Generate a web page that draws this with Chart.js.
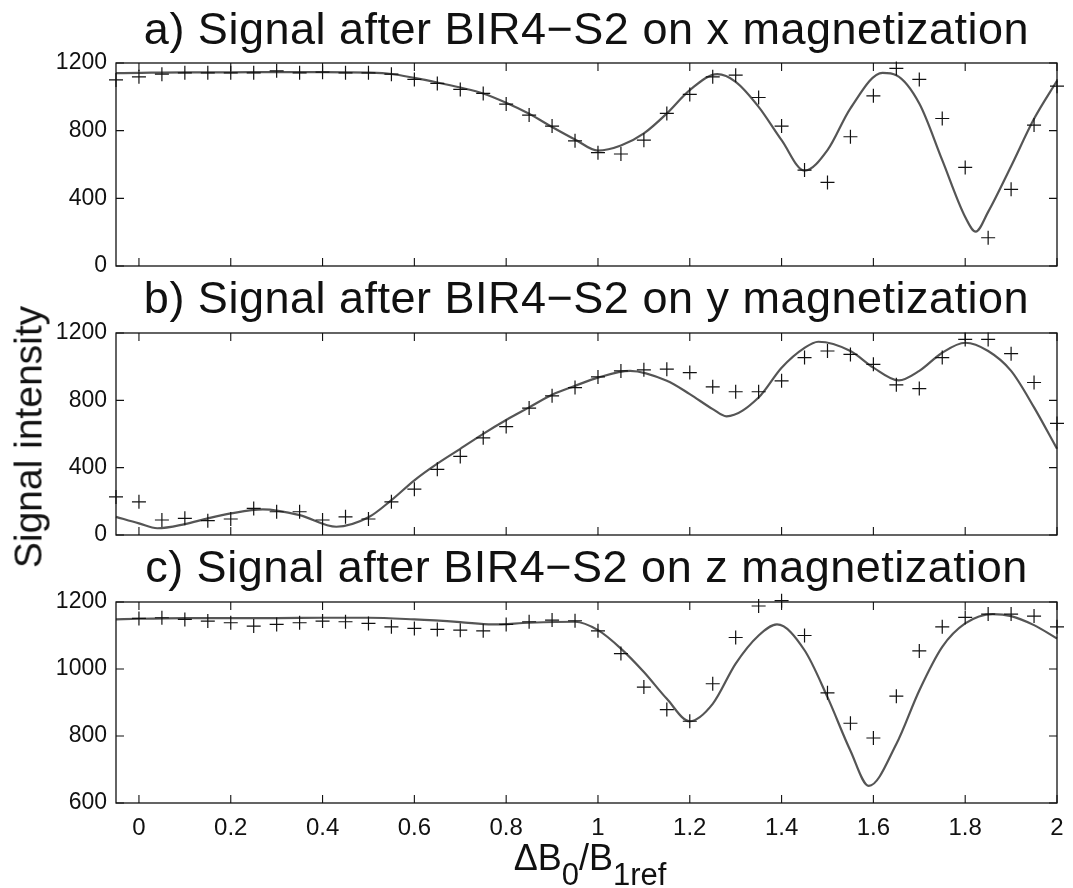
<!DOCTYPE html>
<html>
<head>
<meta charset="utf-8">
<script src="https://cdn.jsdelivr.net/npm/chart.js@4.4.1/dist/chart.umd.min.js"></script>
<style>
  html, body { margin: 0; padding: 0; background: #fff; }
  body { width: 1073px; height: 888px; position: relative; overflow: hidden; font-family: 'Liberation Sans', Arial, Helvetica, sans-serif; color: #111; }
  canvas { position: absolute; left: 0; }
  .title { position: absolute; left: 116px; width: 941px; text-align: center; font-size: 45px; line-height: 45px; white-space: nowrap; letter-spacing: 0.5px; z-index: 2; }
  .ylab { position: absolute; left: 28px; top: 437px; transform: translate(-50%, -50%) rotate(-90deg); font-size: 39px; line-height: 39px; white-space: nowrap; z-index: 2; }
  .xlab { position: absolute; left: 590px; top: 840px; transform: translateX(-50%); font-size: 36px; line-height: 36px; white-space: nowrap; z-index: 2; }
  .xlab .sb { font-size: 31px; position: relative; top: 15px; }
</style>
</head>
<body>
<div class="title" style="top:6px">a) Signal after BIR4−S2 on x magnetization</div>
<div class="title" style="top:275px">b) Signal after BIR4−S2 on y magnetization</div>
<div class="title" style="top:544px">c) Signal after BIR4−S2 on z magnetization</div>
<div class="ylab">Signal intensity</div>
<div class="xlab">ΔB<span class="sb">0</span>/B<span class="sb">1ref</span></div>

<canvas id="ca" width="1073" height="230" style="top:50px"></canvas>
<canvas id="cb" width="1073" height="230" style="top:320px"></canvas>
<canvas id="cc" width="1073" height="260" style="top:590px"></canvas>

<script>
// ---- tick values / labels ----
const xTicks = [0, 0.2, 0.4, 0.6, 0.8, 1, 1.2, 1.4, 1.6, 1.8, 2];
const xTickLabels = ['0', '0.2', '0.4', '0.6', '0.8', '1', '1.2', '1.4', '1.6', '1.8', '2'];
const yTicksAB = [0, 400, 800, 1200];
const yTicksC = [600, 800, 1000, 1200];

// ---- measured points (crosses) ----
const measX = [-0.05, 0, 0.05, 0.1, 0.15, 0.2, 0.25, 0.3, 0.35, 0.4, 0.45, 0.5, 0.55, 0.6, 0.65, 0.7, 0.75, 0.8, 0.85, 0.9, 0.95,
               1, 1.05, 1.1, 1.15, 1.2, 1.25, 1.3, 1.35, 1.4, 1.45, 1.5, 1.55, 1.6, 1.65, 1.7, 1.75, 1.8, 1.85, 1.9, 1.95, 2];
const aMeas = [1100, 1118, 1134, 1142, 1142, 1142, 1142, 1154, 1142, 1146, 1142, 1142, 1134, 1103, 1079, 1044, 1020, 957, 892, 827, 740,
               670, 662, 744, 902, 1014, 1118, 1128, 996, 827, 567, 494, 764, 1006, 1168, 1103, 872, 583, 167, 453, 833, 1063];
const bMeas = [226, 197, 89, 99, 85, 95, 158, 138, 138, 89, 108, 95, 197, 272, 390, 467, 577, 644, 754, 827, 876,
               939, 975, 981, 985, 965, 880, 851, 851, 916, 1054, 1093, 1073, 1014, 892, 870, 1054, 1162, 1162, 1077, 906, 663];
const cMeas = [null, 1151, 1153, 1148, 1143, 1138, 1128, 1133, 1138, 1143, 1141, 1136, 1126, 1121, 1118, 1116, 1114, 1133, 1141, 1146, 1144,
               1114, 1046, 946, 879, 844, 956, 1094, 1188, 1204, 1100, 929, 838, 794, 919, 1054, 1126, 1154, 1164, 1164, 1158, 1126];

// ---- simulated curves ----
const aFitX = [-0.05, 0, 0.1, 0.2, 0.3, 0.4, 0.5, 0.55, 0.6, 0.65, 0.7, 0.75, 0.8, 0.85, 0.9, 0.95, 1.0, 1.05, 1.1, 1.15,
               1.2, 1.26, 1.3, 1.35, 1.4, 1.45, 1.5, 1.55, 1.62, 1.65, 1.7, 1.75, 1.8, 1.823, 1.85, 1.9, 1.95, 2.0];
const aFitY = [1140, 1142, 1145, 1145, 1146, 1146, 1143, 1135, 1112, 1085, 1055, 1020, 965, 900, 822, 748, 682, 712, 784, 902,
               1040, 1134, 1089, 941, 744, 563, 685, 932, 1142, 1128, 961, 626, 290, 203, 320, 590, 870, 1095];
const bFitX = [-0.05, 0, 0.04, 0.1, 0.15, 0.2, 0.27, 0.35, 0.43, 0.5, 0.55, 0.6, 0.65, 0.7, 0.75, 0.8, 0.85, 0.9, 0.95, 1.0,
               1.07, 1.15, 1.2, 1.25, 1.28, 1.35, 1.4, 1.45, 1.48, 1.55, 1.6, 1.655, 1.7, 1.75, 1.8, 1.85, 1.9, 1.95, 2.0];
const bFitY = [108, 69, 40, 65, 99, 128, 152, 118, 49, 105, 207, 325, 424, 512, 601, 683, 758, 833, 886, 935,
               975, 916, 837, 748, 705, 817, 994, 1112, 1148, 1093, 994, 918, 975, 1083, 1142, 1093, 975, 758, 512];
const cFitX = [-0.05, 0, 0.1, 0.2, 0.3, 0.4, 0.5, 0.6, 0.7, 0.77, 0.85, 0.95, 1.0, 1.05, 1.1, 1.15, 1.2, 1.25, 1.3, 1.35,
               1.39, 1.45, 1.5, 1.55, 1.59, 1.65, 1.7, 1.75, 1.8, 1.86, 1.9, 1.95, 2.0];
const cFitY = [1148, 1150, 1152, 1152, 1152, 1153, 1153, 1148, 1140, 1133, 1138, 1141, 1116, 1061, 991, 911, 844, 896, 1016, 1100,
               1133, 1056, 916, 756, 651, 776, 936, 1066, 1136, 1164, 1158, 1131, 1091];

const FONT = "'Liberation Sans', Arial, Helvetica, sans-serif";

const framePlugin = {
  id: 'frame',
  afterDatasetsDraw(chart) {
    const { ctx, chartArea: { left, right, top, bottom }, scales: { x, y } } = chart;
    ctx.save();
    ctx.strokeStyle = '#111';
    ctx.lineWidth = 1.3;
    ctx.strokeRect(left, top, right - left, bottom - top);
    ctx.lineWidth = 1.1;
    ctx.beginPath();
    x.ticks.forEach(t => {
      const px = x.getPixelForValue(t.value);
      ctx.moveTo(px, bottom); ctx.lineTo(px, bottom - 8);
      ctx.moveTo(px, top); ctx.lineTo(px, top + 8);
    });
    y.ticks.forEach(t => {
      const py = y.getPixelForValue(t.value);
      ctx.moveTo(left, py); ctx.lineTo(left + 8, py);
      ctx.moveTo(right, py); ctx.lineTo(right - 8, py);
    });
    ctx.stroke();
    ctx.restore();
  }
};

function pairs(xs, ys) { return xs.map((v, i) => ({ x: v, y: ys[i] })); }

function makeChart(id, meas, fitX, fitY, yMin, yMax, yTicks, showX, xAxisH, padTop) {
  return new Chart(document.getElementById(id), {
    type: 'scatter',
    data: {
      datasets: [
        {
          type: 'line',
          data: pairs(fitX, fitY),
          borderColor: '#555',
          borderWidth: 2.2,
          pointRadius: 0,
          cubicInterpolationMode: 'monotone',
          fill: false,
          clip: false,
          order: 2
        },
        {
          type: 'scatter',
          data: pairs(measX, meas),
          pointStyle: 'cross',
          pointRadius: 7,
          borderColor: '#111',
          borderWidth: 1.2,
          backgroundColor: '#111',
          clip: false,
          order: 1
        }
      ]
    },
    options: {
      responsive: false,
      maintainAspectRatio: false,
      animation: false,
      events: [],
      layout: { autoPadding: false, padding: { left: 0, right: 16, top: padTop, bottom: 0 } },
      plugins: { legend: { display: false }, tooltip: { enabled: false }, title: { display: false } },
      scales: {
        x: {
          type: 'linear',
          min: -0.05,
          max: 2,
          afterBuildTicks: s => { s.ticks = xTicks.map(v => ({ value: v })); },
          afterFit: s => { s.height = xAxisH; s.paddingLeft = 0; s.paddingRight = 0; },
          grid: { display: false, drawTicks: false },
          border: { display: false },
          ticks: {
            display: showX,
            padding: 13,
            maxRotation: 0,
            autoSkip: false,
            color: '#111',
            font: { family: FONT, size: 24, lineHeight: 1 },
            callback: (v, i) => xTickLabels[i]
          }
        },
        y: {
          type: 'linear',
          min: yMin,
          max: yMax,
          afterBuildTicks: s => { s.ticks = yTicks.map(v => ({ value: v })); },
          afterFit: s => { s.width = 116; s.paddingTop = 0; s.paddingBottom = 0; },
          grid: { display: false, drawTicks: false },
          border: { display: false },
          ticks: {
            padding: 9,
            autoSkip: false,
            color: '#111',
            font: { family: FONT, size: 23, lineHeight: 1 },
            callback: v => String(v)
          }
        }
      }
    },
    plugins: [framePlugin]
  });
}

makeChart('ca', aMeas, aFitX, aFitY, 0, 1200, yTicksAB, false, 14, 13);
makeChart('cb', bMeas, bFitX, bFitY, 0, 1200, yTicksAB, false, 15, 13);
makeChart('cc', cMeas, cFitX, cFitY, 600, 1200, yTicksC, true, 47, 12);
</script>
</body>
</html>
